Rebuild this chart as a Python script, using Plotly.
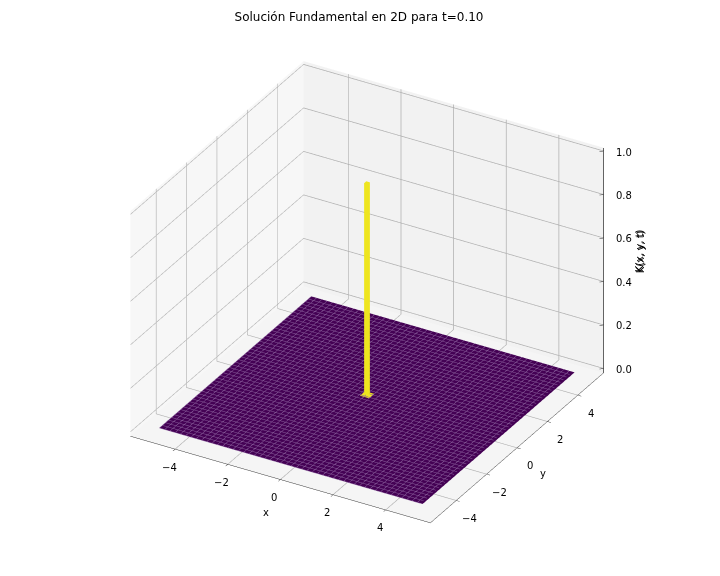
import numpy as np
import plotly.graph_objects as go

TITLE = "Solución Fundamental en 2D para t=0.10"
grid_x = [-5.0,-4.8,-4.6,-4.4,-4.2,-4.0,-3.8,-3.6,-3.4,-3.2,-3.0,-2.8,-2.6,-2.4,-2.2,-2.0,-1.8,-1.6,-1.4,-1.2,-1.0,-0.8,-0.6,-0.4,-0.2,0.0,
          0.2,0.4,0.6,0.8,1.0,1.2,1.4,1.6,1.8,2.0,2.2,2.4,2.6,2.8,3.0,3.2,3.4,3.6,3.8,4.0,4.2,4.4,4.6,4.8,5.0]
grid_y = list(grid_x)
floor_value = 0.0
peak_value = 1.0
spike_half = 0.07
foot_half = 0.17
xy_ticks = [-4, -2, 0, 2, 4]
z_ticks = [0.0, 0.2, 0.4, 0.6, 0.8, 1.0]
LIM = 5.7
YELLOW = "#eee51f"
MESH = "#8a5f9c"

z = np.full((len(grid_y), len(grid_x)), floor_value)

fig = go.Figure()
fig.add_trace(go.Surface(
    x=grid_x, y=grid_y, z=z, surfacecolor=z, colorscale="Viridis", cmin=0, cmax=1,
    showscale=False, hoverinfo="skip",
    lighting=dict(ambient=1, diffuse=0, specular=0, fresnel=0, roughness=1),
    contours=dict(
        x=dict(show=True, start=-5, end=5, size=0.2, color=MESH, width=1),
        y=dict(show=True, start=-5, end=5, size=0.2, color=MESH, width=1),
        z=dict(show=False)),
))
s, f, h = spike_half, foot_half, peak_value
b = 0.025
vx = [-s, s, s, -s, -s, s, s, -s, -f, f, f, -f]
vy = [-s, -s, s, s, -s, -s, s, s, -f, -f, f, f]
vz = [b]*4 + [h]*4 + [b]*4
i = [0, 0, 1, 1, 2, 2, 3, 3, 4, 4, 8, 8]
j = [1, 5, 2, 6, 3, 7, 0, 4, 5, 6, 9, 10]
k = [5, 4, 6, 5, 7, 6, 4, 7, 6, 7, 10, 11]
fig.add_trace(go.Mesh3d(x=vx, y=vy, z=vz, i=i, j=j, k=k, color=YELLOW, flatshading=True,
                        lighting=dict(ambient=1, diffuse=0, specular=0, fresnel=0, roughness=1),
                        hoverinfo="skip"))
zl, zh = -0.02, 1.015
fig.add_trace(go.Scatter3d(x=[LIM, LIM], y=[LIM, LIM], z=[zl, zh], mode="lines",
                           line=dict(color="#333333", width=1.5), hoverinfo="skip"))
for v in z_ticks:
    fig.add_trace(go.Scatter3d(x=[LIM-0.1, LIM+0.12], y=[LIM-0.1, LIM+0.12], z=[v, v], mode="lines",
                               line=dict(color="#333333", width=1), hoverinfo="skip"))

font = dict(family="DejaVu Sans", size=10, color="black")
def axis(rng, ticks, bg, line=True, ticklen=4):
    return dict(title=dict(text=""), range=rng, tickvals=ticks, showticklabels=False,
                ticks="outside" if line else "", ticklen=ticklen, tickcolor="#333333",
                showgrid=True, gridcolor="#b0b0b0", gridwidth=1.5,
                showbackground=True, backgroundcolor=bg, showline=line, linecolor="#333333",
                linewidth=1, zeroline=False, showspikes=False)

def label(text, x, y, z_, dx, dy, angle=0):
    return dict(x=x, y=y, z=z_, text=text, showarrow=False, xshift=dx, yshift=-dy,
                textangle=angle, font=font, xanchor="center", yanchor="middle")

def fmt(v):
    return f"{v:g}".replace("-", "\u2212")

ann = []
ann += [label(fmt(v), v, -LIM, zl, -6, 18) for v in xy_ticks]
ann += [label(fmt(v), LIM, v, zl, 13, 18) for v in xy_ticks]
ann += [label(f"{v:.1f}", LIM, LIM, v, 20, 1) for v in z_ticks]
ann.append(label("x", 0, -LIM, zl, -14, 33))
ann.append(label("y", LIM, 0, zl, 26, 26))
ann.append(label("K(x, y, t)", LIM, LIM, 0.5, 36, -9, -90))
ann.append(label("K(x, y, t)", LIM, LIM, 0.5, 37, -8, -90))

fig.update_layout(
    width=720, height=576, autosize=False, paper_bgcolor="white", showlegend=False,
    margin=dict(l=0, r=0, t=0, b=0),
    title=dict(text=TITLE, x=0.4875, xanchor="center", y=1-9/576, yanchor="middle",
               font=dict(family="DejaVu Sans", size=12, color="black")),
    scene=dict(
        domain=dict(x=[0, 0.9972], y=[0.014, 1]),
        aspectmode="manual", aspectratio=dict(x=1.22, y=1.22, z=0.915),
        camera=dict(eye=dict(x=0.433*2.5, y=-0.75*2.5, z=0.5*2.5),
                    center=dict(x=0, y=0, z=0), up=dict(x=0, y=0, z=1),
                    projection=dict(type="orthographic")),
        xaxis=axis([-LIM, LIM], xy_ticks, "#f7f7f7"),
        yaxis=axis([-LIM, LIM], xy_ticks, "#f2f2f2"),
        zaxis=axis([zl, zh], z_ticks, "#f5f5f5", line=False),
        annotations=ann,
    ),
)
fig.write_html("out.html")
